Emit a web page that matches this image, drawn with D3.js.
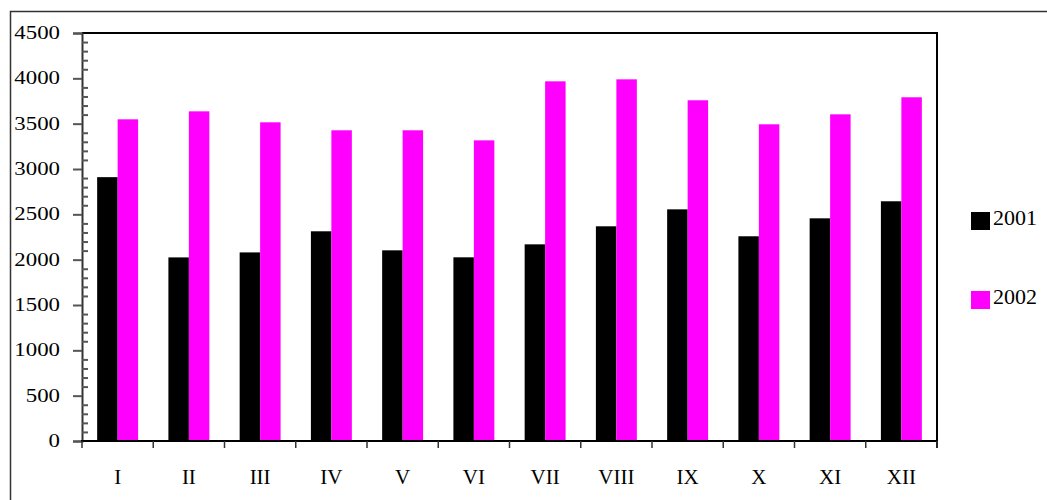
<!DOCTYPE html>
<html>
<head>
<meta charset="utf-8">
<script src="https://cdn.jsdelivr.net/npm/d3@7"></script>
<style>
  html, body { margin: 0; padding: 0; background: #fff; }
  svg { display: block; }
</style>
</head>
<body>
<svg id="chart" width="1047" height="500"></svg>
<script>
// Monthly totals, 2001 vs 2002
const months = ["I", "II", "III", "IV", "V", "VI", "VII", "VIII", "IX", "X", "XI", "XII"];
const years = ["2001", "2002"];
const values2001 = [2910, 2025, 2080, 2313, 2103, 2026, 2169, 2368, 2555, 2258, 2456, 2644];
const values2002 = [3548, 3636, 3515, 3427, 3427, 3316, 3967, 3989, 3758, 3493, 3603, 3791];
const yMajorTicks = [0, 500, 1000, 1500, 2000, 2500, 3000, 3500, 4000, 4500];
const colors = ["#000000", "#ff00ff"];

const svg = d3.select("#chart");
const font = "'Liberation Serif', 'Times New Roman', serif";

// outer frame (only left and top edges fall inside the canvas)
svg.append("rect")
  .attr("x", 10.5).attr("y", 11.5)
  .attr("width", 1100).attr("height", 600)
  .attr("fill", "none").attr("stroke", "#333").attr("stroke-width", 1.5);

const plot = { left: 82, top: 33, right: 937, bottom: 441 };

const x = d3.scaleBand().domain(months).range([plot.left, plot.right]);
const xInner = d3.scaleBand().domain(years)
  .range([0, x.bandwidth()]).paddingOuter(0.74).paddingInner(0);
const y = d3.scaleLinear().domain([0, 4500]).range([plot.bottom, plot.top]);

const rows = months.map((m, i) => ({ month: m, vals: [values2001[i], values2002[i]] }));

// bars
const groups = svg.append("g").selectAll("g").data(rows).join("g")
  .attr("transform", d => `translate(${x(d.month)},0)`);
groups.selectAll("rect")
  .data(d => d.vals.map((v, k) => ({ year: years[k], v, k })))
  .join("rect")
  .attr("x", d => xInner(d.year))
  .attr("width", xInner.bandwidth())
  .attr("y", d => y(d.v))
  .attr("height", d => y(0) - y(d.v))
  .attr("fill", d => colors[d.k]);

// plot area frame: top and right edges
svg.append("path")
  .attr("d", `M${plot.left},${plot.top}H${plot.right}V${plot.bottom + 7}`)
  .attr("fill", "none").attr("stroke", "#000").attr("stroke-width", 2);

// y axis: major ticks outside, minor ticks inside
const yAxisMajor = d3.axisLeft(y).tickValues(yMajorTicks).tickSize(9).tickFormat("");
const gy = svg.append("g").attr("transform", `translate(${plot.left},0)`).call(yAxisMajor);
gy.select(".domain").attr("stroke", "#333").attr("stroke-width", 2);
gy.selectAll(".tick line").attr("stroke", "#555").attr("stroke-width", 2);

const minorTicks = d3.range(0, 4501, 100).filter(v => v % 500 !== 0);
const yAxisMinor = d3.axisRight(y).tickValues(minorTicks).tickSize(6).tickFormat("");
const gyMinor = svg.append("g").attr("transform", `translate(${plot.left},0)`).call(yAxisMinor);
gyMinor.select(".domain").remove();
gyMinor.selectAll(".tick line").attr("stroke", "#555").attr("stroke-width", 2);

// y tick labels
svg.append("g").selectAll("text").data(yMajorTicks).join("text")
  .attr("transform", d => `translate(60,${y(d) + 6}) scale(1.27,1)`)
  .attr("text-anchor", "end")
  .attr("font-family", font).attr("font-size", 18).attr("fill", "#000")
  .text(d => d);

// x axis: ticks at category boundaries
const xTicks = months.map(m => x(m)).concat([plot.right]);
svg.append("line")
  .attr("x1", plot.left - 1).attr("x2", plot.right)
  .attr("y1", plot.bottom).attr("y2", plot.bottom)
  .attr("stroke", "#000").attr("stroke-width", 2);
svg.append("g").selectAll("line").data(xTicks).join("line")
  .attr("x1", d => d).attr("x2", d => d)
  .attr("y1", plot.bottom).attr("y2", plot.bottom + 7)
  .attr("stroke", "#333").attr("stroke-width", 1.5);

svg.append("g").selectAll("text").data(months).join("text")
  .attr("x", d => x(d) + x.bandwidth() / 2)
  .attr("y", 484)
  .attr("text-anchor", "middle")
  .attr("font-family", font).attr("font-size", 21).attr("fill", "#000")
  .text(d => d);

// legend
const legend = svg.append("g").selectAll("g").data(years).join("g")
  .attr("transform", (d, i) => `translate(971,${212 + i * 79})`);
legend.append("rect")
  .attr("width", 19).attr("height", 18)
  .attr("fill", (d, i) => colors[i]);
legend.append("text")
  .attr("x", 22).attr("y", 13)
  .attr("font-family", font).attr("font-size", 22).attr("fill", "#000")
  .text(d => d);
</script>
</body>
</html>
